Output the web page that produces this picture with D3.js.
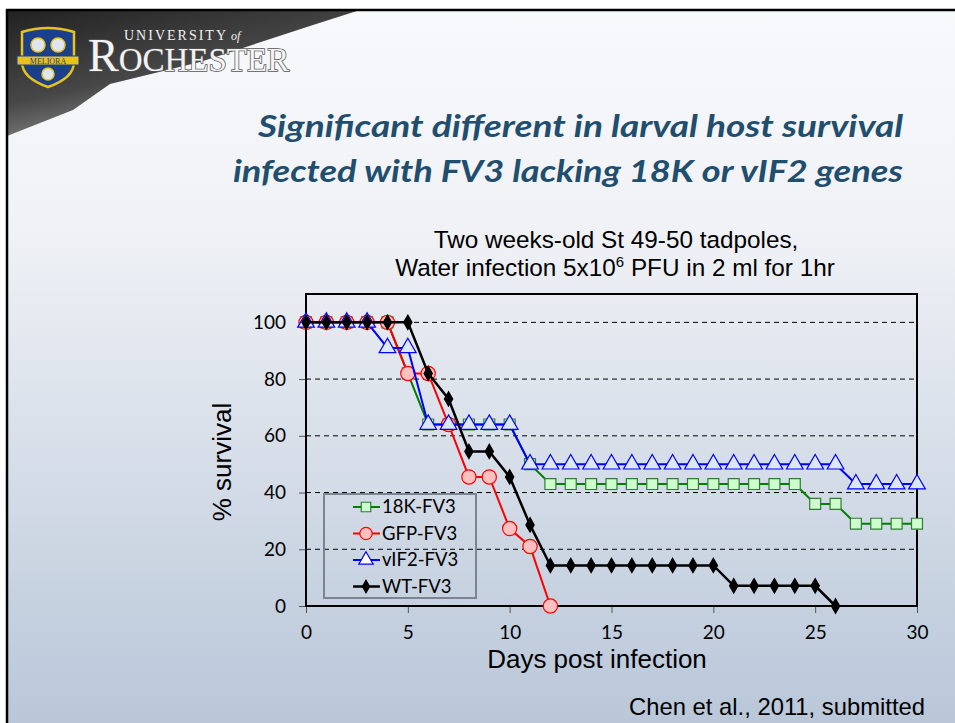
<!DOCTYPE html>
<html>
<head>
<meta charset="utf-8">
<script src="https://cdn.jsdelivr.net/npm/d3@7/dist/d3.min.js"></script>
<style>
  body { margin: 0; background: #fff; }
  svg { display: block; }
</style>
</head>
<body>
<svg id="chart" width="955" height="723"></svg>
<script>
// data
const days = [0,1,2,3,4,5,6,7,8,9,10,11,12,13,14,15,16,17,18,19,20,21,22,23,24,25,26,27,28,29,30];
const surv18K = [100,100,100,100,100,82,64,64,64,64,64,50,43,43,43,43,43,43,43,43,43,43,43,43,43,36,36,29,29,29,29];
const survGFP = [100,100,100,100,100,82,82,64,45.5,45.5,27.3,21,0];
const survVIF2 = [100,100,100,100,91,91,64,64,64,64,64,50,50,50,50,50,50,50,50,50,50,50,50,50,50,50,50,43,43,43,43];
const survWT = [100,100,100,100,100,100,82,73,54.5,54.5,45.5,28.6,14.3,14.3,14.3,14.3,14.3,14.3,14.3,14.3,14.3,7.1,7.1,7.1,7.1,7.1,0];
const seriesNames = ["18K-FV3", "GFP-FV3", "vIF2-FV3", "WT-FV3"];
const xTicks = [0,5,10,15,20,25,30];
const yTicks = [0,20,40,60,80,100];

const styles = {
  "18K-FV3":  {line: "#008000", fill: "#ccffcc", stroke: "#2e7d32", sym: d3.symbolSquare,   size: 120, w: 2},
  "GFP-FV3":  {line: "#ff0000", fill: "#ffc0c0", stroke: "#ff0000", sym: d3.symbolCircle,   size: 160, w: 2},
  "vIF2-FV3": {line: "#0000ff", fill: "#dce8f8", stroke: "#0000ff", sym: d3.symbolTriangle, size: 120, w: 2},
  "WT-FV3":   {line: "#000000", fill: "#000000", stroke: "#000000", sym: d3.symbolDiamond,  size: 60,  w: 2.5}
};
const seriesVals = [surv18K, survGFP, survVIF2, survWT];
const series = seriesNames.map((n, i) => ({name: n, values: seriesVals[i].map((v, j) => ({d: days[j], v: v}))}));

const svg = d3.select("#chart");
const defs = svg.append("defs");

// slide background
const bg = defs.append("linearGradient").attr("id", "bg").attr("x1", 0).attr("y1", 0).attr("x2", 0).attr("y2", 1);
bg.append("stop").attr("offset", "0%").attr("stop-color", "#f8f9fb");
bg.append("stop").attr("offset", "30%").attr("stop-color", "#f0f2f6");
bg.append("stop").attr("offset", "100%").attr("stop-color", "#b9c7d9");
svg.append("rect").attr("x", 7).attr("y", 10).attr("width", 948).attr("height", 713).attr("fill", "url(#bg)");

// dark corner behind logo
const corner = defs.append("linearGradient").attr("id", "corner").attr("x1", 0).attr("y1", 0).attr("x2", 0.6).attr("y2", 1);
corner.append("stop").attr("offset", "0%").attr("stop-color", "#222");
corner.append("stop").attr("offset", "55%").attr("stop-color", "#474747");
corner.append("stop").attr("offset", "100%").attr("stop-color", "#a5a5a5");
svg.append("path").attr("d", "M7,10 L360,10 L313,25 L200,62 L110,84 L73,110 L7,136 Z").attr("fill", "url(#corner)");

// slide border
svg.append("line").attr("x1", 6).attr("x2", 955).attr("y1", 10).attr("y2", 10).attr("stroke", "#000").attr("stroke-width", 2.5);
svg.append("line").attr("x1", 7).attr("x2", 7).attr("y1", 9).attr("y2", 723).attr("stroke", "#000").attr("stroke-width", 2.5);

// logo shield
const logo = svg.append("g");
logo.append("path")
  .attr("d", "M22,32 Q48,24 74,32 L74,62 Q74,78 48,87 Q22,78 22,62 Z")
  .attr("fill", "#1c3f8c").attr("stroke", "#e8c31a").attr("stroke-width", 2.5);
logo.append("circle").attr("cx", 38).attr("cy", 45).attr("r", 7).attr("fill", "#dfe6f2").attr("stroke", "#e8c31a").attr("stroke-width", 1.5);
logo.append("circle").attr("cx", 58).attr("cy", 45).attr("r", 7).attr("fill", "#dfe6f2").attr("stroke", "#e8c31a").attr("stroke-width", 1.5);
logo.append("rect").attr("x", 17).attr("y", 56).attr("width", 62).attr("height", 9).attr("fill", "#e8c31a").attr("stroke", "#1c3f8c").attr("stroke-width", 1);
logo.append("text").attr("x", 48).attr("y", 63.5).attr("text-anchor", "middle")
  .attr("font-family", "Liberation Serif, serif").attr("font-size", 8).attr("fill", "#1c3f8c").text("MELIORA");
logo.append("circle").attr("cx", 48).attr("cy", 74).attr("r", 6).attr("fill", "#dfe6f2").attr("stroke", "#e8c31a").attr("stroke-width", 1.5);

logo.append("text").attr("x", 124).attr("y", 40)
  .attr("font-family", "Liberation Serif, serif").attr("font-size", 14).attr("fill", "#f2f2f2")
  .attr("letter-spacing", 2).text("UNIVERSITY")
  .append("tspan").attr("font-style", "italic").attr("font-size", 12).attr("letter-spacing", 0).text(" of");
const roch = logo.append("text").attr("x", 88).attr("y", 71)
  .attr("font-family", "Liberation Serif, serif").attr("fill", "#f4f4f4")
  .attr("stroke", "#555").attr("stroke-width", 1.5).attr("paint-order", "stroke");
roch.append("tspan").attr("font-size", 46).text("R");
roch.append("tspan").attr("font-size", 33).text("OCHESTER");

// title
const titleLines = ["Significant different in larval host survival", "infected with FV3 lacking 18K or vIF2 genes"];
svg.selectAll(".title").data(titleLines).enter().append("text")
  .attr("class", "title")
  .attr("x", 903).attr("y", (d, i) => 137 + i * 45)
  .attr("text-anchor", "end")
  .attr("font-family", "Lato, sans-serif").attr("font-style", "italic").attr("font-weight", "bold")
  .attr("font-size", 31).attr("fill", "#1f4e6e")
  .attr("textLength", (d, i) => i === 0 ? 645 : 670).attr("lengthAdjust", "spacingAndGlyphs")
  .text(d => d);

// subtitle
const sub = svg.append("g").attr("font-family", "Liberation Sans, Arial, sans-serif").attr("font-size", 24.3).attr("fill", "#000").attr("text-anchor", "middle");
sub.append("text").attr("x", 616).attr("y", 248).text("Two weeks-old St 49-50 tadpoles,");
const sub2 = sub.append("text").attr("x", 615).attr("y", 276);
sub2.append("tspan").text("Water infection 5x10");
sub2.append("tspan").attr("font-size", 15).attr("dy", -9).text("6");
sub2.append("tspan").attr("dy", 9).text(" PFU in 2 ml for 1hr");

// plot
const x = d3.scaleLinear().domain([0, 30]).range([306, 917]);
const y = d3.scaleLinear().domain([0, 110]).range([606, 294]);

// gridlines
svg.append("g").selectAll("line").data(yTicks.filter(t => t > 0)).enter().append("line")
  .attr("x1", x(0)).attr("x2", x(30)).attr("y1", d => y(d)).attr("y2", d => y(d))
  .attr("stroke", "#000").attr("stroke-width", 1).attr("stroke-dasharray", "5,4");

// axes
const yAxis = svg.append("g").attr("transform", `translate(${x(0)},0)`)
  .call(d3.axisLeft(y).tickValues(yTicks).tickSize(7).tickPadding(13));
const xAxis = svg.append("g").attr("transform", `translate(0,${y(0)})`)
  .call(d3.axisBottom(x).tickValues(xTicks).tickSize(7).tickPadding(13));
[xAxis, yAxis].forEach(a => {
  a.select(".domain").remove();
  a.selectAll(".tick line").attr("stroke", "#555").attr("stroke-width", 1);
  a.selectAll("text").attr("font-family", "Lato, sans-serif").attr("font-size", 19).attr("fill", "#000");
});

// frame
svg.append("rect").attr("x", x(0)).attr("y", y(110)).attr("width", x(30) - x(0)).attr("height", y(0) - y(110))
  .attr("fill", "none").attr("stroke", "#000").attr("stroke-width", 2);

// series
const line = d3.line().x(d => x(d.d)).y(d => y(d.v));
series.forEach(s => {
  const st = styles[s.name];
  const g = svg.append("g");
  g.append("path").datum(s.values).attr("d", line).attr("fill", "none").attr("stroke", st.line).attr("stroke-width", st.w);
  g.selectAll("path.m").data(s.values).enter().append("path").attr("class", "m")
    .attr("transform", d => `translate(${x(d.d)},${y(d.v)})`)
    .attr("d", d3.symbol().type(st.sym).size(st.size))
    .attr("fill", st.fill).attr("stroke", st.stroke).attr("stroke-width", 1.2);
});

// legend
const lg = svg.append("g");
lg.append("rect").attr("x", 324).attr("y", 494).attr("width", 152).attr("height", 104)
  .attr("fill", "none").attr("stroke", "#7a8494").attr("stroke-width", 2);
seriesNames.forEach((n, i) => {
  const st = styles[n];
  const ly = 507 + i * 26.5;
  lg.append("line").attr("x1", 353).attr("x2", 380).attr("y1", ly).attr("y2", ly).attr("stroke", st.line).attr("stroke-width", st.w);
  lg.append("path").attr("transform", `translate(366,${ly})`)
    .attr("d", d3.symbol().type(st.sym).size(st.size * 0.75))
    .attr("fill", n === "vIF2-FV3" ? "#ffffff" : st.fill).attr("stroke", st.stroke).attr("stroke-width", 1.2);
  lg.append("text").attr("x", 382).attr("y", ly + 6)
    .attr("font-family", "Lato, sans-serif").attr("font-size", 18.5).attr("fill", "#000").text(n);
});

// axis titles
svg.append("text").attr("x", 597).attr("y", 668).attr("text-anchor", "middle")
  .attr("font-family", "Liberation Sans, Arial, sans-serif").attr("font-size", 26).text("Days post infection");
svg.append("text").attr("transform", "translate(231,462) rotate(-90)").attr("text-anchor", "middle")
  .attr("font-family", "Liberation Sans, Arial, sans-serif").attr("font-size", 26).text("% survival");

// citation
svg.append("text").attr("x", 925).attr("y", 715).attr("text-anchor", "end")
  .attr("font-family", "Liberation Sans, Arial, sans-serif").attr("font-size", 23.8).text("Chen et al., 2011, submitted");
</script>
</body>
</html>
